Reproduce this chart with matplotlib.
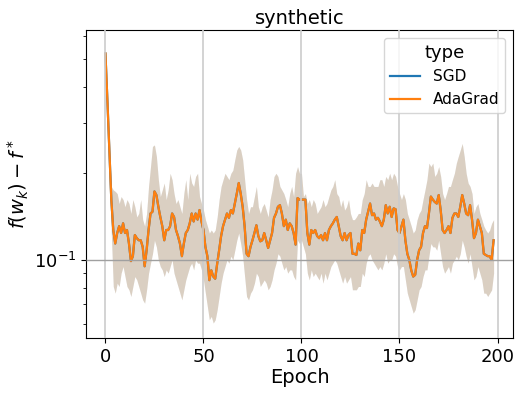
import numpy as np
import matplotlib
matplotlib.use("Agg")
import matplotlib.pyplot as plt

epochs = list(range(199))

mean_vals = [
    0.522, 0.359, 0.241, 0.162, 0.127, 0.114, 0.124, 0.131, 0.124, 0.134,
    0.124, 0.127, 0.114, 0.099, 0.103, 0.122, 0.119, 0.117, 0.117, 0.111,
    0.095, 0.108, 0.127, 0.145, 0.147, 0.173, 0.168, 0.153, 0.141, 0.131,
    0.117, 0.127, 0.127, 0.131, 0.145, 0.141, 0.127, 0.121, 0.114, 0.103,
    0.114, 0.124, 0.127, 0.134, 0.145, 0.136, 0.145, 0.138, 0.149, 0.136,
    0.127, 0.111, 0.103, 0.085, 0.092, 0.0875, 0.086, 0.097, 0.108, 0.121,
    0.131, 0.138, 0.145, 0.140, 0.149, 0.145, 0.157, 0.170, 0.185, 0.170,
    0.153, 0.131, 0.105, 0.103, 0.111, 0.117, 0.124, 0.132, 0.121, 0.116,
    0.117, 0.124, 0.117, 0.110, 0.117, 0.124, 0.140, 0.145, 0.153, 0.155,
    0.145, 0.131, 0.138, 0.127, 0.134, 0.131, 0.124, 0.113, 0.164, 0.162,
    0.162, 0.162, 0.162, 0.124, 0.113, 0.127, 0.124, 0.127, 0.121, 0.119,
    0.122, 0.117, 0.124, 0.117, 0.127, 0.131, 0.134, 0.138, 0.141, 0.131,
    0.121, 0.117, 0.124, 0.117, 0.122, 0.124, 0.105, 0.105, 0.104, 0.114,
    0.108, 0.127, 0.124, 0.138, 0.147, 0.157, 0.143, 0.145, 0.138, 0.140,
    0.136, 0.131, 0.138, 0.155, 0.145, 0.153, 0.141, 0.151, 0.150, 0.127,
    0.124, 0.131, 0.138, 0.117, 0.105, 0.100, 0.092, 0.0875, 0.0887, 0.100,
    0.108, 0.111, 0.124, 0.131, 0.129, 0.145, 0.166, 0.162, 0.159, 0.157,
    0.168, 0.149, 0.127, 0.124, 0.127, 0.131, 0.124, 0.140, 0.145, 0.145,
    0.141, 0.153, 0.168, 0.157, 0.145, 0.143, 0.155, 0.138, 0.119, 0.124,
    0.138, 0.131, 0.124, 0.105, 0.104, 0.103, 0.103, 0.100, 0.117,
]

upper_vals = [
    0.522, 0.369, 0.248, 0.180, 0.175, 0.173, 0.170, 0.157, 0.166, 0.162,
    0.153, 0.162, 0.157, 0.145, 0.162, 0.153, 0.141, 0.145, 0.162, 0.138,
    0.131, 0.145, 0.180, 0.211, 0.248, 0.251, 0.229, 0.190, 0.166, 0.175,
    0.185, 0.162, 0.175, 0.200, 0.190, 0.170, 0.157, 0.162, 0.153, 0.145,
    0.170, 0.190, 0.162, 0.200, 0.185, 0.180, 0.195, 0.200, 0.166, 0.157,
    0.149, 0.138, 0.131, 0.124, 0.127, 0.124, 0.127, 0.141, 0.162, 0.180,
    0.190, 0.200, 0.195, 0.190, 0.200, 0.205, 0.223, 0.241, 0.248, 0.241,
    0.223, 0.190, 0.162, 0.145, 0.153, 0.153, 0.166, 0.180, 0.153, 0.145,
    0.153, 0.157, 0.149, 0.141, 0.162, 0.175, 0.195, 0.200, 0.195, 0.180,
    0.175, 0.170, 0.162, 0.153, 0.170, 0.180, 0.166, 0.200, 0.211, 0.200,
    0.200, 0.166, 0.170, 0.157, 0.162, 0.153, 0.162, 0.157, 0.145, 0.149,
    0.153, 0.162, 0.153, 0.157, 0.166, 0.175, 0.180, 0.190, 0.170, 0.166,
    0.153, 0.162, 0.149, 0.153, 0.162, 0.145, 0.138, 0.138, 0.141, 0.145,
    0.145, 0.162, 0.170, 0.190, 0.180, 0.180, 0.185, 0.180, 0.180, 0.180,
    0.190, 0.190, 0.180, 0.195, 0.190, 0.200, 0.190, 0.200, 0.195, 0.180,
    0.170, 0.162, 0.170, 0.162, 0.145, 0.138, 0.131, 0.124, 0.127, 0.138,
    0.145, 0.149, 0.162, 0.175, 0.190, 0.217, 0.211, 0.217, 0.195, 0.200,
    0.211, 0.195, 0.170, 0.162, 0.170, 0.180, 0.180, 0.190, 0.200, 0.217,
    0.229, 0.241, 0.254, 0.229, 0.200, 0.185, 0.180, 0.170, 0.145, 0.153,
    0.157, 0.145, 0.138, 0.131, 0.127, 0.124, 0.127, 0.134, 0.138,
]

lower_vals = [
    0.522, 0.341, 0.211, 0.124, 0.0808, 0.0766, 0.083, 0.0808, 0.0899, 0.0948,
    0.0875, 0.0808, 0.0787, 0.0746, 0.0808, 0.0875, 0.0852, 0.0808, 0.0766, 0.0726,
    0.0707, 0.0787, 0.0899, 0.0974, 0.105, 0.117, 0.111, 0.100, 0.0948, 0.0923,
    0.0875, 0.0923, 0.0899, 0.0948, 0.100, 0.0899, 0.0852, 0.0808, 0.0766, 0.0726,
    0.0787, 0.0852, 0.0899, 0.0948, 0.0974, 0.0923, 0.100, 0.0974, 0.0974, 0.0923,
    0.0852, 0.0766, 0.0688, 0.0619, 0.0636, 0.0603, 0.0619, 0.0671, 0.0746, 0.083,
    0.0899, 0.0948, 0.100, 0.0974, 0.103, 0.100, 0.108, 0.117, 0.124, 0.114,
    0.103, 0.0875, 0.0746, 0.0726, 0.0766, 0.0787, 0.083, 0.0899, 0.0875, 0.0808,
    0.083, 0.0852, 0.083, 0.0787, 0.0808, 0.0852, 0.0923, 0.0974, 0.105, 0.103,
    0.0974, 0.0923, 0.0948, 0.0899, 0.0923, 0.0923, 0.0875, 0.0852, 0.117, 0.114,
    0.117, 0.111, 0.105, 0.0899, 0.0852, 0.0923, 0.0875, 0.0899, 0.0875, 0.0852,
    0.0899, 0.083, 0.0899, 0.0852, 0.0899, 0.0948, 0.0974, 0.100, 0.0974, 0.0923,
    0.0875, 0.083, 0.0875, 0.083, 0.0852, 0.0875, 0.0787, 0.0787, 0.0787, 0.0808,
    0.0808, 0.0899, 0.0875, 0.0974, 0.103, 0.105, 0.100, 0.0974, 0.0948, 0.0923,
    0.0948, 0.0923, 0.0974, 0.105, 0.0974, 0.100, 0.100, 0.105, 0.103, 0.0948,
    0.0923, 0.0948, 0.0948, 0.0852, 0.0766, 0.0726, 0.0688, 0.0653, 0.0671, 0.0726,
    0.0787, 0.0808, 0.0875, 0.0923, 0.0923, 0.103, 0.114, 0.111, 0.111, 0.108,
    0.117, 0.105, 0.0948, 0.0899, 0.0923, 0.0948, 0.0899, 0.0974, 0.100, 0.103,
    0.100, 0.105, 0.117, 0.111, 0.103, 0.0974, 0.105, 0.0948, 0.0852, 0.0875,
    0.0948, 0.0899, 0.0852, 0.0766, 0.0766, 0.0746, 0.0766, 0.0787, 0.0899,
]

series = ["SGD", "AdaGrad"]
colors = ["#1f77b4", "#ff7f0e"]

fig = plt.figure(figsize=(5.32, 3.98), dpi=100)
ax = fig.add_axes([0.1617, 0.1508, 0.8026, 0.7738])

for name, c in zip(series, colors):
    ax.plot(epochs, mean_vals, color=c, lw=1.6, label=name, zorder=2)
    ax.fill_between(epochs, lower_vals, upper_vals, color=c, alpha=0.2, lw=0, zorder=1)

ax.set_yscale("log")
ax.set_ylim(0.0535, 0.63)
ax.set_xlim(-9.9, 207.9)
ax.set_xticks([0, 50, 100, 150, 200])

ax.xaxis.grid(True, color="#cccccc", lw=1.2, zorder=0)
ax.yaxis.grid(True, which="major", color="#a0a0a0", lw=1.0)
ax.set_axisbelow(False)

ax.tick_params(axis="both", which="major", labelsize=13)
ax.set_xlabel("Epoch", fontsize=14, labelpad=2)
ax.set_ylabel(r"$f(w_k) - f^*$", fontsize=14, labelpad=2)
ax.set_title("synthetic", fontsize=14, pad=4)

leg = ax.legend(title="type", loc="upper right", fontsize=11, title_fontsize=13)

fig.savefig("out.png", dpi=100)
